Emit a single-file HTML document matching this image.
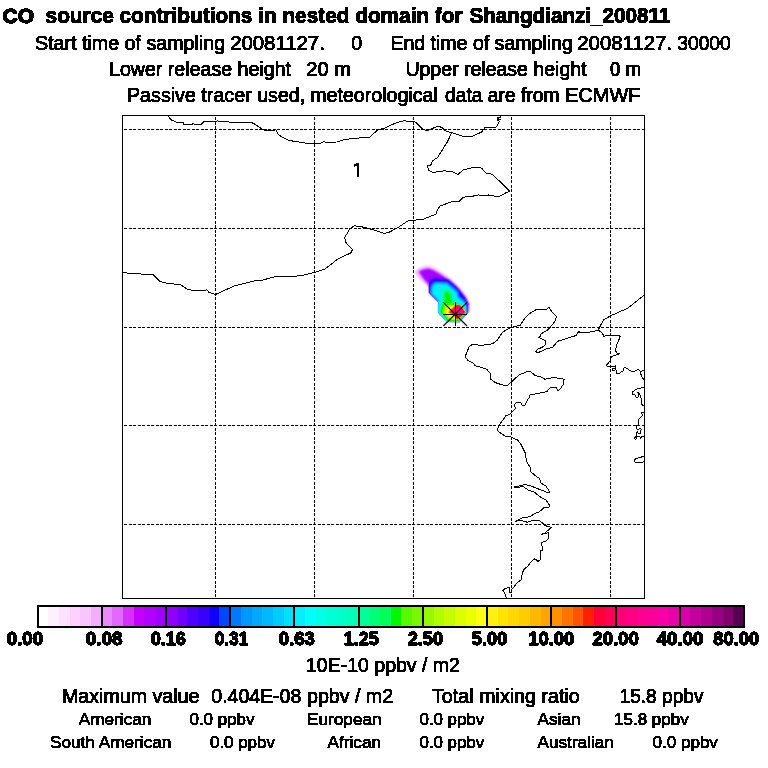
<!DOCTYPE html>
<html><head><meta charset="utf-8"><title>CO source contributions</title>
<style>
html,body{margin:0;padding:0;background:#fff;}
body{width:768px;height:768px;overflow:hidden;}
svg{display:block;position:absolute;left:0;top:0;}
text{font-family:"Liberation Sans",sans-serif;fill:#000;stroke:#000;stroke-width:0.9px;stroke-linejoin:round;}
.s{stroke-width:0.75px;}
.b{font-weight:bold;stroke-width:1px;stroke-linejoin:round;}
.cb{font-weight:bold;stroke:#000;stroke-width:1.3px;stroke-linejoin:round;}
.ln{fill:none;stroke:#000;stroke-width:1;stroke-linejoin:round;stroke-linecap:round;shape-rendering:crispEdges;}
.gr{fill:none;stroke:#000;stroke-width:1;stroke-dasharray:3 1.5;shape-rendering:crispEdges;}
</style></head><body>
<svg width="768" height="768" viewBox="0 0 768 768">
<rect width="768" height="768" fill="#fff"/>

<defs>
<filter id="b3" x="-30%" y="-30%" width="160%" height="160%"><feGaussianBlur stdDeviation="1.6"/></filter>
<filter id="b2" x="-30%" y="-30%" width="160%" height="160%"><feGaussianBlur stdDeviation="1.1"/></filter>
<filter id="b1" x="-30%" y="-30%" width="160%" height="160%"><feGaussianBlur stdDeviation="0.8"/></filter>
<filter id="b0" x="-30%" y="-30%" width="160%" height="160%"><feGaussianBlur stdDeviation="0.55"/></filter>
<clipPath id="hull"><polygon points="429.0,280 429.0,292.4 431.1,294.9 438.5,302.3 438,311.2 439.4,314 447.3,321.8 459.2,322.2 467.8,312.6 468.2,305 480,305 480,260 428.4,260"/></clipPath>
<clipPath id="hull2"><polygon points="405,260 405,276 414,276 428.2,287 428.2,292.7 430.5,295.4 437.8,302.6 437.3,311.4 438.8,314.4 447,322.5 459.5,322.9 480,300 480,260"/></clipPath>
<filter id="thr" x="0" y="0" width="768" height="768" filterUnits="userSpaceOnUse" color-interpolation-filters="sRGB"><feComponentTransfer><feFuncA type="discrete" tableValues="0 1"/></feComponentTransfer></filter>
<clipPath id="oneclip"><polygon points="352,160 359.4,160 359.4,178 356.8,178 356.8,169.5 352,169.5"/></clipPath>
<clipPath id="mapclip"><rect x="123" y="116" width="521" height="482"/></clipPath>
</defs>
<g clip-path="url(#mapclip)">
<g clip-path="url(#hull2)">
<g filter="url(#b3)">
<polygon fill="#f4b0ff" points="414.3,272.3 418.8,268.4 425.5,265.8 431.6,266.6 439.6,271.2 450.4,278.6 459.2,287 466.2,295.8 469.8,304.2 469.6,313 459.5,323 447,322.6 438,313.5 437.6,302.6 429.5,295 427.8,292.5 427.2,286 420.7,280.3"/>
</g>
<g filter="url(#b2)">
<polygon fill="#a800ff" points="418.6,271.6 423,269.6 428.8,268.4 433.4,270.2 440.9,274.4 449.4,280.4 457.6,288.6 464.5,297 468.3,304.4 468.2,312.6 459,321.8 447.4,321.6 439,313.4 438.4,302.4 430,294.6 428.6,292.4 428.6,284.6 424,279.4"/>
</g>
</g>
<g clip-path="url(#hull)">
<g filter="url(#b1)">
<polygon fill="#2000ff" points="426,281.4 436,278 448.4,279.8 458,288.2 465.2,297.4 468.5,304.6 468.6,314 459.6,323.4 446.6,323.4 436.6,313.6 436.6,302.6 426,293.4"/>
<polygon fill="#00a8ff" points="431.4,285.8 434.8,282.4 446.6,282.8 457.4,291.8 458.4,296.6 465,302.2 467,310.6 458.8,321.6 447.6,321.6 439.3,313.6 438.6,302 430.4,293.8"/>
<polygon fill="#00f0ff" points="432.8,286.8 435.2,283.6 446.2,284 456.4,292.6 457.4,297.6 464,303 466,310.8 458.6,321 447.9,321 440.2,313.4 439.6,301.2 432,293.3"/>
</g>
<g filter="url(#b0)">
<polygon fill="#00f0ff" points="437.2,301.6 437.2,312.9 447.2,323 458.4,323 466.4,313 465.4,304.4 458,299 445,299"/>
</g>
<g filter="url(#b1)">
<polygon fill="#00ffb4" points="441,290 447.6,287.4 452.6,293.6 454.6,302.6 458,303.4 458,306 441.6,306 441.4,297"/>
<polygon fill="#00f000" points="444,292 448.6,290.4 451.6,296.4 452.6,302.8 455,304 455,306 443,306 444,299"/>
</g>
<g filter="url(#b0)">
<polygon fill="#00ffa0" points="441.4,303.2 459.3,302.7 466.6,312.4 459.3,321.6 447.5,321.8 439.2,312.1"/>
<polygon fill="#00f400" points="442.5,303.9 459.1,303.4 465.8,312.4 459.1,320.9 448.2,321.1 440.5,312.1"/>
<polygon fill="#80f800" points="444.1,304.8 458.8,304.4 464.8,312.4 458.8,319.9 449.1,320.1 442.2,312.1"/>
<polygon fill="#c8fc00" points="445.5,305.6 458.5,305.3 463.8,312.4 458.5,319.1 449.9,319.2 443.9,312.1"/>
<polygon fill="#f8ff00" points="447.2,306.7 458.2,306.3 462.7,312.3 458.2,318.0 451.0,318.1 445.8,312.1"/>
<polygon fill="#ffc000" points="447.4,312.2 455.6,304.2 460.6,305 465.6,311.8 461.4,316.8 457,320.2 453.4,315.4"/>
<polygon fill="#ff2000" points="448.8,312.2 456.2,304.8 460.4,305.6 465.2,311.9 461,316.4 457,319.4 454,315"/>
<polygon fill="#ff0080" points="451.6,312.3 456.6,305.8 460,306.6 464.4,311.9 460.6,315.6 457,317.8 455,314.4"/>
</g>
</g>
</g>

<g>
<line class="gr" x1="215.5" y1="117" x2="215.5" y2="598"/>
<line class="gr" x1="314.5" y1="117" x2="314.5" y2="598"/>
<line class="gr" x1="413.5" y1="117" x2="413.5" y2="598"/>
<line class="gr" x1="511.5" y1="117" x2="511.5" y2="598"/>
<line class="gr" x1="610.5" y1="117" x2="610.5" y2="598"/>
<line class="gr" x1="124" y1="129.5" x2="644" y2="129.5"/>
<line class="gr" x1="124" y1="228.5" x2="644" y2="228.5"/>
<line class="gr" x1="124" y1="327.5" x2="644" y2="327.5"/>
<line class="gr" x1="124" y1="425.5" x2="644" y2="425.5"/>
<line class="gr" x1="124" y1="524.5" x2="644" y2="524.5"/>
<rect x="122.5" y="115.5" width="522" height="483" fill="none" stroke="#000" stroke-width="1" shape-rendering="crispEdges"/>
</g>
<g clip-path="url(#mapclip)">
<polyline class="ln" points="168.3,115.8 170.8,119.7 175.8,122.0 183.3,122.5 183.7,124.3 192.5,124.3 193.3,123.3 194.2,124.3 201.3,124.3 204.2,121.3 215.0,121.3 217.5,121.0 227.5,121.3 229.2,122.3 251.3,122.3 255.8,124.7 260.8,128.3 264.7,130.3 275.8,130.0 278.7,135.0 288.3,140.3 296.7,141.7 306.7,143.3 320.8,143.3 324.2,141.3 325.8,142.3 336.7,142.0 345.8,139.3 370.0,137.0 377.5,130.0 385.0,128.0 395.0,123.3 401.7,121.3 405.0,120.7 406.7,121.3 413.3,121.3 415.8,122.3 421.7,128.3 425.8,130.3 428.3,130.3 435.0,127.3 439.2,126.3 442.5,128.0 445.8,131.0 451.7,132.7 463.3,136.3 472.5,136.3 481.7,132.0 485.3,127.3 496.7,127.0 499.2,121.3 497.5,120.0 500.3,119.7 496.7,118.0 500.3,117.7 500.8,115.8"/>
<polyline class="ln" points="451.7,132.7 447.5,141.7 437.5,157.5 432.5,160.8 430.8,165.0 427.5,165.8 428.7,170.3 432.5,172.5 444.2,170.8 452.5,171.7 458.0,174.3 463.3,170.0 470.0,168.3 472.5,167.3 479.6,167.3 481.7,168.3 486.3,173.3 492.5,174.3 509.8,191.3 506.7,192.3 499.6,196.3 494.2,196.3 492.5,195.4 488.8,195.4 488.3,194.6 487.9,195.4 479.2,195.4 478.3,194.6 477.9,195.4 473.8,195.7 473.3,196.4 470.0,196.4 463.3,197.3 458.3,202.0 451.7,201.7 440.0,206.0 437.5,210.0 435.8,214.2 423.3,219.2 413.3,220.3 408.3,220.7 398.3,227.3 388.3,232.7 384.2,233.3 371.7,229.3 362.5,227.0 354.2,225.8 349.7,229.2 344.7,237.5 345.8,242.5 352.5,249.5 350.8,253.0 338.3,258.7 324.7,269.2 314.2,272.5 304.2,275.0 294.2,276.5 275.5,276.5 263.0,280.0 254.2,281.0 234.2,286.0 215.5,294.5 208.5,292.0 206.7,289.5 205.5,290.5 194.2,290.5 187.5,289.5 180.5,284.5 168.0,283.5 160.0,281.5 153.0,274.5 141.7,274.5 140.5,273.5 126.7,273.0 123.0,272.0"/>
<polyline class="ln" points="644.5,294.8 627.9,308.1 610.4,315.9 603.5,319.8 599.3,327.9"/>
<polyline class="ln" points="599.3,327.9 598.5,330.0 602.7,333.8 603.9,336.3 608.1,335.0 610.2,335.4 619.3,335.4 620.2,336.7 616.4,345.8 615.6,350.8 617.3,353.3 619.3,353.8 617.7,354.6 613.5,355.4 611.0,357.5 610.2,360.8 606.2,365.5 607.7,366.6 614.6,366.6 615.3,365.5 615.3,368.4 612.4,368.7 612.4,370.4 615.0,370.4 615.3,369.3 616.4,370.9 616.8,373.3 619.3,373.3 623.4,370.7 624.1,367.5 625.5,367.5 631.4,371.4 633.6,371.4 638.7,369.5 640.5,371.3 644.3,370.5"/>
<polyline class="ln" points="640.5,371.3 640.9,374.2 641.6,376.4 643.8,379.7 644.5,380.5"/>
<polyline class="ln" points="599.3,327.9 597.7,330.6 586.0,332.7 581.0,332.9 578.7,331.6 576.2,335.5 557.6,341.3 552.7,347.2 545.0,349.4 538.3,352.6 535.4,351.6 538.2,348.8 542.0,347.5 545.0,345.0 545.8,340.8 538.6,337.1 540.8,336.5 540.8,334.0 546.9,330.6 550.0,327.5 555.0,321.3 556.5,316.8 552.3,312.5 548.8,307.3 546.9,309.1 539.0,309.1 535.2,310.1 530.0,313.3 524.3,319.0 520.5,325.0 515.0,326.7 511.7,327.2 505.8,330.0 501.7,333.3 497.5,340.0 493.3,343.3 488.3,344.7 480.0,345.3 472.5,344.2 469.2,346.7 466.7,352.5 465.3,356.7 467.5,360.0 473.3,363.3 475.0,365.8 481.7,367.5 486.7,369.2 490.0,373.3 490.8,379.2 495.0,382.5 502.5,385.0 507.5,385.3 511.7,381.7 519.2,374.7 528.3,371.3 530.8,372.0 535.0,375.3 540.8,377.0 545.0,379.2 553.3,377.5 564.2,379.2 563.3,384.2 560.8,388.3 558.0,391.3 555.8,387.0 550.8,387.0 546.7,391.7 540.0,393.0 530.0,395.0 529.2,397.5 526.7,401.3 525.0,405.3 521.7,405.0 520.8,402.5 515.8,403.0 514.2,405.3 515.8,408.3 512.5,411.7 510.0,414.2 505.8,415.8 501.7,421.7 498.3,425.8 497.5,430.8 500.8,433.3 505.8,436.3 510.8,437.0 517.5,440.0 520.8,444.2 525.0,452.5 526.7,461.7 530.3,467.5 530.8,471.7 537.5,477.5 539.7,478.3 540.8,483.0 545.8,485.8 549.7,492.0 547.5,492.5 536.7,488.3 529.2,485.3 524.2,484.7 520.0,485.8 514.2,486.7 514.2,487.5 523.3,486.7 528.3,490.0 534.2,492.0 540.0,496.7 545.8,500.0 549.7,505.3 549.2,507.0 544.2,507.5 539.2,512.0 535.8,513.0 530.0,516.7 521.7,518.0 515.8,521.3 520.0,520.1 527.5,522.3 533.0,520.2 539.4,520.5 542.5,523.0 545.0,525.6 551.5,527.3 545.0,533.0 541.3,534.5 548.5,532.7 548.5,538.8 546.3,541.0 541.5,542.3 542.5,550.0 540.6,550.6 540.0,560.0 538.0,561.5 535.0,558.8 533.0,559.8 527.5,566.3 523.5,570.0 521.9,575.0 521.3,579.8 516.9,583.0 511.9,589.4 511.0,592.3 509.4,592.3 509.4,587.5 505.0,588.5 503.0,590.6 505.6,595.0 506.3,598.5"/>
<polyline class="ln" points="644.5,387.2 639.8,388.4 635.4,389.5 632.5,392.1 632.5,394.3 634.7,394.6 635.8,396.8 637.6,397.6 638.3,396.1 638.2,393.2 637.2,392.3 639.8,393.5 640.5,397.6 641.6,399.0 641.8,404.8 644.5,405.6"/>
<polyline class="ln" points="644.5,412.2 642.0,412.6 641.2,413.3 642.7,414.4 642.3,415.8 639.4,418.4 638.3,420.6 638.3,425.0 636.5,425.7 636.5,428.6 637.6,429.7 639.4,428.6 641.6,429.3 640.5,430.8 640.5,433.2 638.3,433.3 637.6,431.9 636.5,433.3 636.5,435.9 634.3,438.4 635.4,439.5 636.5,438.1 636.0,436.4 639.8,436.4 640.9,438.3 641.9,436.4 644.5,436.3"/>
<polyline class="ln" points="644.5,456.3 639.8,457.4 635.8,458.5 634.1,460.7 635.4,462.4 642.0,462.4 644.5,461.4"/>
</g>
<g stroke="#000" stroke-width="1" shape-rendering="crispEdges">
<line x1="443" y1="314.5" x2="467" y2="314.5"/>
<line x1="455.5" y1="302" x2="455.5" y2="326"/>
</g>
<g stroke="#000" stroke-width="1.1" stroke-linecap="butt">
<line x1="443.3" y1="302.3" x2="467" y2="326"/>
<line x1="467" y1="302.3" x2="443.3" y2="326"/>
</g>

<g shape-rendering="crispEdges">
<rect x="37.40" y="606" width="11.21" height="21" fill="#ffffff"/>
<rect x="48.11" y="606" width="11.21" height="21" fill="#fff0ff"/>
<rect x="58.81" y="606" width="11.21" height="21" fill="#ffe0ff"/>
<rect x="69.52" y="606" width="11.21" height="21" fill="#fdd0ff"/>
<rect x="80.22" y="606" width="11.21" height="21" fill="#fbc4ff"/>
<rect x="90.93" y="606" width="11.21" height="21" fill="#f4acff"/>
<rect x="101.64" y="606" width="11.21" height="21" fill="#ec88ff"/>
<rect x="112.34" y="606" width="11.21" height="21" fill="#e468ff"/>
<rect x="123.05" y="606" width="11.21" height="21" fill="#d630ff"/>
<rect x="133.75" y="606" width="11.21" height="21" fill="#c400ff"/>
<rect x="144.46" y="606" width="11.21" height="21" fill="#b400ff"/>
<rect x="155.17" y="606" width="11.21" height="21" fill="#a000ff"/>
<rect x="165.87" y="606" width="11.21" height="21" fill="#9000ff"/>
<rect x="176.58" y="606" width="11.21" height="21" fill="#7000ff"/>
<rect x="187.28" y="606" width="11.21" height="21" fill="#5000ff"/>
<rect x="197.99" y="606" width="11.21" height="21" fill="#3800ff"/>
<rect x="208.70" y="606" width="11.21" height="21" fill="#1000ff"/>
<rect x="219.40" y="606" width="11.21" height="21" fill="#0048ff"/>
<rect x="230.11" y="606" width="11.21" height="21" fill="#0078ff"/>
<rect x="240.82" y="606" width="11.21" height="21" fill="#0098ff"/>
<rect x="251.52" y="606" width="11.21" height="21" fill="#00a8ff"/>
<rect x="262.23" y="606" width="11.21" height="21" fill="#00b8ff"/>
<rect x="272.93" y="606" width="11.21" height="21" fill="#00ccff"/>
<rect x="283.64" y="606" width="11.21" height="21" fill="#00e0ff"/>
<rect x="294.35" y="606" width="11.21" height="21" fill="#00f0ff"/>
<rect x="305.05" y="606" width="11.21" height="21" fill="#00fff8"/>
<rect x="315.76" y="606" width="11.21" height="21" fill="#00ffe4"/>
<rect x="326.46" y="606" width="11.21" height="21" fill="#00ffd4"/>
<rect x="337.17" y="606" width="11.21" height="21" fill="#00ffc8"/>
<rect x="347.88" y="606" width="11.21" height="21" fill="#00ffb8"/>
<rect x="358.58" y="606" width="11.21" height="21" fill="#00ff98"/>
<rect x="369.29" y="606" width="11.21" height="21" fill="#00ff78"/>
<rect x="379.99" y="606" width="11.21" height="21" fill="#00ff58"/>
<rect x="390.70" y="606" width="11.21" height="21" fill="#00f800"/>
<rect x="401.41" y="606" width="11.21" height="21" fill="#58f800"/>
<rect x="412.11" y="606" width="11.21" height="21" fill="#78f800"/>
<rect x="422.82" y="606" width="11.21" height="21" fill="#98f800"/>
<rect x="433.52" y="606" width="11.21" height="21" fill="#b0fc00"/>
<rect x="444.23" y="606" width="11.21" height="21" fill="#c8fc00"/>
<rect x="454.94" y="606" width="11.21" height="21" fill="#dcff00"/>
<rect x="465.64" y="606" width="11.21" height="21" fill="#ecff00"/>
<rect x="476.35" y="606" width="11.21" height="21" fill="#ffff10"/>
<rect x="487.05" y="606" width="11.21" height="21" fill="#fff010"/>
<rect x="497.76" y="606" width="11.21" height="21" fill="#ffe400"/>
<rect x="508.47" y="606" width="11.21" height="21" fill="#ffd800"/>
<rect x="519.17" y="606" width="11.21" height="21" fill="#ffcc00"/>
<rect x="529.88" y="606" width="11.21" height="21" fill="#ffb800"/>
<rect x="540.58" y="606" width="11.21" height="21" fill="#ffa400"/>
<rect x="551.29" y="606" width="11.21" height="21" fill="#ff9000"/>
<rect x="562.00" y="606" width="11.21" height="21" fill="#ff7400"/>
<rect x="572.70" y="606" width="11.21" height="21" fill="#ff5400"/>
<rect x="583.41" y="606" width="11.21" height="21" fill="#ff2000"/>
<rect x="594.12" y="606" width="11.21" height="21" fill="#ff0038"/>
<rect x="604.82" y="606" width="11.21" height="21" fill="#ff0058"/>
<rect x="615.53" y="606" width="11.21" height="21" fill="#ff0078"/>
<rect x="626.23" y="606" width="11.21" height="21" fill="#ff0084"/>
<rect x="636.94" y="606" width="11.21" height="21" fill="#ff0090"/>
<rect x="647.65" y="606" width="11.21" height="21" fill="#fc009c"/>
<rect x="658.35" y="606" width="11.21" height="21" fill="#f800a8"/>
<rect x="669.06" y="606" width="11.21" height="21" fill="#e800a8"/>
<rect x="679.76" y="606" width="11.21" height="21" fill="#d800a8"/>
<rect x="690.47" y="606" width="11.21" height="21" fill="#c4009c"/>
<rect x="701.18" y="606" width="11.21" height="21" fill="#b00090"/>
<rect x="711.88" y="606" width="11.21" height="21" fill="#980084"/>
<rect x="722.59" y="606" width="11.21" height="21" fill="#800070"/>
<rect x="733.29" y="606" width="11.21" height="21" fill="#580054"/>
<rect x="101" y="606" width="2" height="21" fill="#000"/>
<rect x="165" y="606" width="2" height="21" fill="#000"/>
<rect x="229" y="606" width="2" height="21" fill="#000"/>
<rect x="293" y="606" width="2" height="21" fill="#000"/>
<rect x="358" y="606" width="2" height="21" fill="#000"/>
<rect x="422" y="606" width="2" height="21" fill="#000"/>
<rect x="486" y="606" width="2" height="21" fill="#000"/>
<rect x="550" y="606" width="2" height="21" fill="#000"/>
<rect x="615" y="606" width="2" height="21" fill="#000"/>
<rect x="679" y="606" width="2" height="21" fill="#000"/>
<rect x="38" y="606" width="706" height="21" fill="none" stroke="#000" stroke-width="2"/>
</g>
<g filter="url(#thr)">
<text class="b" style="stroke-width:1.4px" x="2.5" y="23.4" font-size="21">CO</text>
<text class="b" x="45.60" y="23.2" font-size="21.3" textLength="417.05" lengthAdjust="spacingAndGlyphs">source contributions in nested domain for</text>
<text class="b" x="469.40" y="23.2" font-size="21.3" textLength="201.05" lengthAdjust="spacingAndGlyphs">Shangdianzi_200811</text>
<text class="" x="34.99" y="49.8" font-size="19.5" textLength="190.09" lengthAdjust="spacingAndGlyphs">Start time of sampling</text>
<text class="" x="230.21" y="49.8" font-size="19.5" textLength="94.60" lengthAdjust="spacingAndGlyphs">20081127.</text>
<text class="" x="356.65" y="49.8" font-size="19.5" text-anchor="middle">0</text>
<text class="" x="390.40" y="49.8" font-size="19.5" textLength="182.40" lengthAdjust="spacingAndGlyphs">End time of sampling</text>
<text class="" x="577.25" y="49.8" font-size="19.5" textLength="94.86" lengthAdjust="spacingAndGlyphs">20081127.</text>
<text class="" x="677.20" y="49.8" font-size="19.5" textLength="53.63" lengthAdjust="spacingAndGlyphs">30000</text>
<text class="" x="108.99" y="75.8" font-size="19.5" textLength="182.05" lengthAdjust="spacingAndGlyphs">Lower release height</text>
<text class="" x="306.27" y="75.8" font-size="19.5" textLength="44.84" lengthAdjust="spacingAndGlyphs">20 m</text>
<text class="" x="405.40" y="75.8" font-size="19.5" textLength="181.15" lengthAdjust="spacingAndGlyphs">Upper release height</text>
<text class="" x="610.00" y="75.8" font-size="19.5" textLength="31.09" lengthAdjust="spacingAndGlyphs">0 m</text>
<text class="" x="126.99" y="101.8" font-size="19.5" textLength="178.30" lengthAdjust="spacingAndGlyphs">Passive tracer used,</text>
<text class="" x="310.24" y="101.8" font-size="19.5" textLength="127.59" lengthAdjust="spacingAndGlyphs">meteorological</text>
<text class="" x="445.00" y="101.8" font-size="19.5" textLength="114.57" lengthAdjust="spacingAndGlyphs">data are from</text>
<text class="" x="565.18" y="101.8" font-size="19.5" textLength="75.19" lengthAdjust="spacingAndGlyphs">ECMWF</text>
<text class="" x="362.9" y="177" font-size="19.5" text-anchor="end" style="stroke-width:0.4px" clip-path="url(#oneclip)">1</text>
<text class="cb" x="6.70" y="645.3" font-size="18" textLength="36.35" lengthAdjust="spacingAndGlyphs">0.00</text>
<text class="cb" x="85.80" y="645.3" font-size="18" textLength="36.75" lengthAdjust="spacingAndGlyphs">0.08</text>
<text class="cb" x="150.80" y="645.3" font-size="18" textLength="35.05" lengthAdjust="spacingAndGlyphs">0.16</text>
<text class="cb" x="214.70" y="645.3" font-size="18" textLength="33.65" lengthAdjust="spacingAndGlyphs">0.31</text>
<text class="cb" x="278.80" y="645.3" font-size="18" textLength="35.95" lengthAdjust="spacingAndGlyphs">0.63</text>
<text class="cb" x="343.70" y="645.3" font-size="18" textLength="35.15" lengthAdjust="spacingAndGlyphs">1.25</text>
<text class="cb" x="407.70" y="645.3" font-size="18" textLength="35.35" lengthAdjust="spacingAndGlyphs">2.50</text>
<text class="cb" x="471.80" y="645.3" font-size="18" textLength="35.55" lengthAdjust="spacingAndGlyphs">5.00</text>
<text class="cb" x="528.18" y="645.3" font-size="18" textLength="46.07" lengthAdjust="spacingAndGlyphs">10.00</text>
<text class="cb" x="592.50" y="645.3" font-size="18" textLength="46.25" lengthAdjust="spacingAndGlyphs">20.00</text>
<text class="cb" x="656.70" y="645.3" font-size="18" textLength="46.65" lengthAdjust="spacingAndGlyphs">40.00</text>
<text class="cb" x="713.30" y="645.3" font-size="18" textLength="45.85" lengthAdjust="spacingAndGlyphs">80.00</text>
<text class="" x="306.00" y="672.3" font-size="19.5" textLength="153.94" lengthAdjust="spacingAndGlyphs">10E-10 ppbv / m2</text>
<text class="" x="61.99" y="702.7" font-size="19.5" textLength="137.36" lengthAdjust="spacingAndGlyphs">Maximum value</text>
<text class="" x="211.30" y="702.7" font-size="19.5" textLength="90.00" lengthAdjust="spacingAndGlyphs">0.404E-08</text>
<text class="" x="306.99" y="702.7" font-size="19.5" textLength="86.15" lengthAdjust="spacingAndGlyphs">ppbv / m2</text>
<text class="" x="432.00" y="702.7" font-size="19.5" textLength="147.82" lengthAdjust="spacingAndGlyphs">Total mixing ratio</text>
<text class="" x="619.52" y="702.7" font-size="19.5" textLength="83.94" lengthAdjust="spacingAndGlyphs">15.8 ppbv</text>
<text class="s" x="78.80" y="725" font-size="16.4" textLength="72.49" lengthAdjust="spacingAndGlyphs">American</text>
<text class="s" x="189.50" y="725" font-size="16.4" textLength="64.89" lengthAdjust="spacingAndGlyphs">0.0 ppbv</text>
<text class="s" x="306.95" y="725" font-size="16.4" textLength="74.70" lengthAdjust="spacingAndGlyphs">European</text>
<text class="s" x="419.50" y="725" font-size="16.4" textLength="64.69" lengthAdjust="spacingAndGlyphs">0.0 ppbv</text>
<text class="s" x="537.50" y="725" font-size="16.4" textLength="43.07" lengthAdjust="spacingAndGlyphs">Asian</text>
<text class="s" x="613.96" y="725" font-size="16.4" textLength="74.84" lengthAdjust="spacingAndGlyphs">15.8 ppbv</text>
<text class="s" x="50.00" y="748" font-size="16.4" textLength="121.25" lengthAdjust="spacingAndGlyphs">South American</text>
<text class="s" x="210.00" y="748" font-size="16.4" textLength="64.89" lengthAdjust="spacingAndGlyphs">0.0 ppbv</text>
<text class="s" x="327.50" y="748" font-size="16.4" textLength="53.57" lengthAdjust="spacingAndGlyphs">African</text>
<text class="s" x="419.50" y="748" font-size="16.4" textLength="64.69" lengthAdjust="spacingAndGlyphs">0.0 ppbv</text>
<text class="s" x="537.50" y="748" font-size="16.4" textLength="76.43" lengthAdjust="spacingAndGlyphs">Australian</text>
<text class="s" x="652.50" y="748" font-size="16.4" textLength="65.39" lengthAdjust="spacingAndGlyphs">0.0 ppbv</text>
</g>
</svg></body></html>
